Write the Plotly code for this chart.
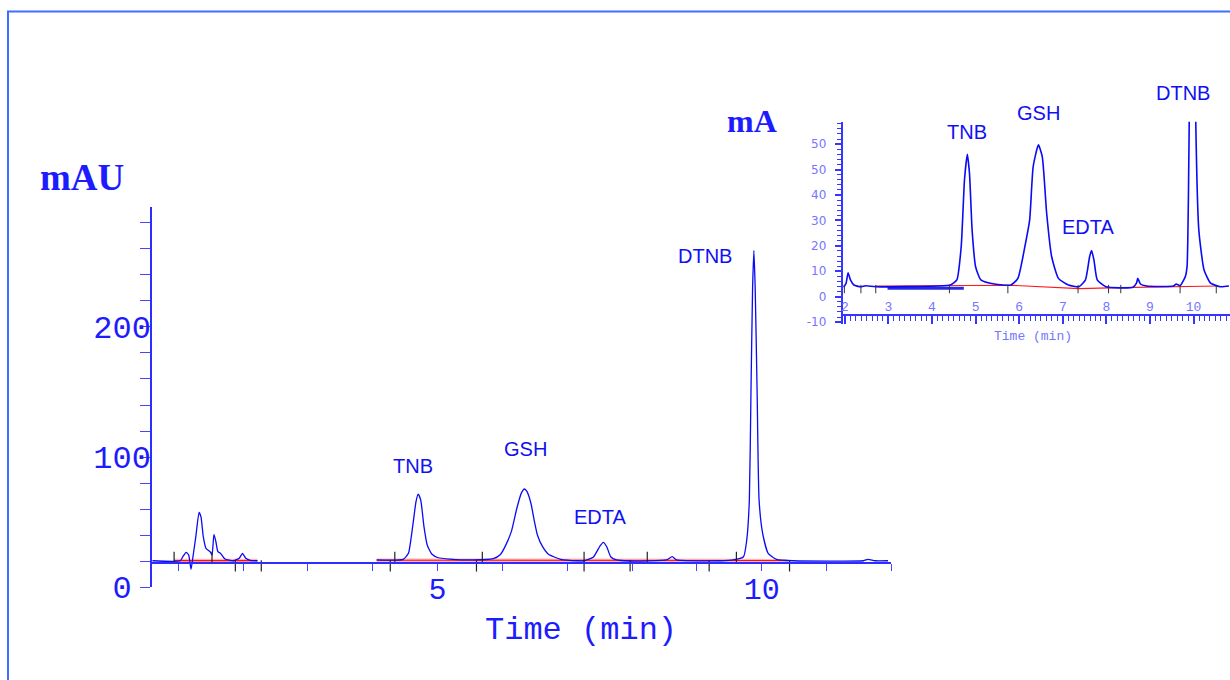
import plotly.graph_objects as go

W, H = 1230, 680

# ---------------- DATA ----------------
# Main chromatogram: time (min) vs signal (mAU)
main_seg1_t = [0.60, 1.03, 1.07, 1.12, 1.16, 1.196, 1.23, 1.27, 1.32, 1.35, 1.385, 1.427,
               1.49, 1.52, 1.55, 1.58, 1.61, 1.65, 1.72, 1.85, 1.94, 1.99, 2.04, 2.11, 2.22]
main_seg1_y = [20.2, 20.2, 23.3, 26.7, 24.6, 13.6, 24.6, 38.7, 57.4, 54.0, 38.7, 29.7,
               27.2, 24.6, 40.5, 34.8, 27.2, 25.9, 21.5, 20.2, 22.1, 25.9, 22.1, 20.5, 20.2]

main_seg2_t = [4.06, 4.47, 4.55, 4.615, 4.667, 4.70, 4.74, 4.79, 4.84, 4.91, 5.01, 5.19,
               5.55, 5.86, 5.97, 6.05, 6.14, 6.22, 6.29, 6.34, 6.38, 6.44, 6.49, 6.54,
               6.62, 6.71, 6.90, 7.17, 7.25, 7.40, 7.505, 7.556, 7.61, 7.67, 7.76, 7.97,
               8.53, 8.62, 8.69, 9.36, 9.56, 9.72, 9.77, 9.81, 9.835, 9.86, 9.88, 9.90,
               9.93, 9.96, 10.015, 10.10, 10.23, 10.49, 11.57, 11.64, 11.75, 11.95]
main_seg2_y = [20.8, 21.3, 25.9, 46.4, 65.6, 71.5, 66.9, 46.4, 32.3, 25.4, 22.5, 21.5,
               20.8, 21.8, 25.0, 32.0, 43.0, 60.0, 72.0, 75.4, 73.3, 64.4, 51.5, 40.0,
               31.0, 25.2, 21.3, 20.2, 20.2, 22.8, 31.5, 34.4, 31.0, 23.3, 20.8, 20.0,
               20.8, 23.3, 20.8, 20.2, 20.8, 23.3, 36.2, 67.0, 150.0, 230.0, 258.7, 230.0,
               150.0, 67.0, 41.3, 25.9, 21.3, 20.2, 20.2, 21.3, 20.2, 20.2]

main_base1_t = [0.93, 2.22]
main_base1_y = [20.3, 20.3]
main_base2_t = [4.06, 10.40]
main_base2_y = [20.6, 20.4]

main_mark_up_t = [0.935, 1.52, 4.34, 5.69, 7.26, 8.235, 9.61]
main_mark_up_y = [22.9, 22.9, 22.9, 22.9, 22.9, 22.9, 22.9]
main_mark_dn_t = [1.88, 2.28, 4.27, 5.60, 7.26, 7.97, 9.19, 10.43]
main_mark_dn_y = [16.2, 16.2, 16.2, 16.2, 16.2, 16.2, 16.2, 16.2]

main_peak_names = ["TNB", "GSH", "EDTA", "DTNB"]
main_xtick_vals = [5, 10]
main_xtick_text = ["5", "10"]
main_xminor_vals = [1, 2, 3, 4, 6, 7, 8, 9, 11, 12]
main_ytick_vals = [0, 100, 200]
main_ytick_text = ["0\u00a0", "100", "200"]
main_yminor_vals = [20, 40, 60, 80, 120, 140, 160, 180, 220, 240, 260, 280]

# Inset chromatogram: time (min) vs signal (mA)
inset_t = [1.975, 2.03, 2.075, 2.13, 2.21, 2.36, 2.48, 2.71, 4.11, 4.42, 4.57, 4.67,
           4.745, 4.81, 4.86, 4.92, 5.00, 5.12, 5.43, 5.81, 5.97, 6.13, 6.24, 6.32,
           6.44, 6.53, 6.63, 6.745, 6.90, 7.13, 7.37, 7.52, 7.615, 7.66, 7.715, 7.79,
           7.99, 8.61, 8.69, 8.72, 8.78, 8.92, 9.54, 9.60, 9.69, 9.81, 9.85, 9.90,
           9.975, 10.05, 10.12, 10.24, 10.39, 10.62, 10.81]
inset_y = [3.7, 5.3, 9.4, 6.6, 4.6, 3.9, 4.3, 3.9, 4.2, 4.6, 6.6, 19.7,
           45.9, 56.0, 48.5, 26.2, 11.8, 6.6, 5.0, 4.6, 7.2, 19.7, 30.2, 51.1,
           59.7, 55.0, 32.8, 15.7, 7.2, 4.6, 3.9, 6.6, 15.7, 18.1, 14.4, 6.6,
           3.9, 3.7, 5.3, 7.2, 5.0, 4.2, 4.2, 5.0, 4.3, 7.9, 11.8, 68.8,
           250.0, 68.8, 26.2, 10.5, 5.3, 3.9, 4.2]

inset_base_t = [2.71, 5.80, 7.37, 8.32, 10.55]
inset_base_y = [4.2, 4.5, 3.2, 3.6, 4.2]
inset_bar_t = [2.98, 4.73]
inset_bar_y = [3.3, 3.3]
inset_mark_t = [1.99, 2.37, 2.71, 4.40, 5.74, 7.35, 8.05, 8.33, 9.69, 10.52]
inset_mark_y = [3.0, 3.0, 3.0, 3.0, 3.0, 3.0, 3.0, 3.0, 3.0, 3.0]

inset_peak_names = ["TNB", "GSH", "EDTA", "DTNB"]
inset_xtick_vals = [2, 3, 4, 5, 6, 7, 8, 9, 10]
inset_xtick_text = ["2", "3", "4", "5", "6", "7", "8", "9", "10"]
inset_ytick_vals = [-10, 0, 10, 20, 30, 40, 50, 60]
inset_ytick_text = ["-10", "0", "10", "20", "30", "40", "50", "50"]

# ---------------- STYLE / LAYOUT ----------------
BLUE_SIG = "#0a0af5"
BLUE_AX = "#2d2dff"
BLUE_TXT = "#1c1cff"
BLUE_LIGHT = "#7575ff"
MONO = "Liberation Mono"
SANS = "Liberation Sans"
SERIF = "Liberation Serif"


def px2paper(px, py):
    return px / W, 1 - py / H


fig = go.Figure()

# main chart traces
for bt, by in [(main_base1_t, main_base1_y), (main_base2_t, main_base2_y)]:
    fig.add_trace(go.Scatter(x=bt, y=by, mode="lines", line=dict(color="#ffb5b5", width=3.5),
                             xaxis="x", yaxis="y", hoverinfo="skip"))
    fig.add_trace(go.Scatter(x=bt, y=by, mode="lines", line=dict(color="#ff1010", width=1.1),
                             xaxis="x", yaxis="y", hoverinfo="skip"))
for st, sy in [(main_seg1_t, main_seg1_y), (main_seg2_t, main_seg2_y)]:
    fig.add_trace(go.Scatter(x=st, y=sy, mode="lines",
                             line=dict(color=BLUE_SIG, width=1.3, shape="spline", smoothing=0.5),
                             xaxis="x", yaxis="y"))
for mt, my in [(main_mark_up_t, main_mark_up_y), (main_mark_dn_t, main_mark_dn_y)]:
    fig.add_trace(go.Scatter(x=mt, y=my, mode="markers",
                             marker=dict(symbol="line-ns", size=8,
                                         line=dict(color="#222222", width=1.2)),
                             xaxis="x", yaxis="y", hoverinfo="skip"))

# inset traces
fig.add_trace(go.Scatter(x=inset_base_t, y=inset_base_y, mode="lines",
                         line=dict(color="#ff1a1a", width=1.2), xaxis="x2", yaxis="y2"))
fig.add_trace(go.Scatter(x=inset_bar_t, y=inset_bar_y, mode="lines",
                         line=dict(color="#2a2ae0", width=3), xaxis="x2", yaxis="y2"))
fig.add_trace(go.Scatter(x=inset_t, y=inset_y, mode="lines",
                         line=dict(color=BLUE_SIG, width=1.6, shape="spline", smoothing=0.5),
                         xaxis="x2", yaxis="y2"))
fig.add_trace(go.Scatter(x=inset_mark_t, y=inset_mark_y, mode="markers",
                         marker=dict(symbol="line-ns", size=6,
                                     line=dict(color="#333333", width=1)),
                         xaxis="x2", yaxis="y2", hoverinfo="skip"))

annotations = []
# peak labels (pixel centres)
for name, (px, py) in zip(main_peak_names, [(412.5, 466), (525, 448.5), (600.8, 516.5), (705, 256)]):
    x, y = px2paper(px, py)
    annotations.append(dict(x=x, y=y, xref="paper", yref="paper", text=name, showarrow=False,
                            xanchor="center", yanchor="middle",
                            font=dict(family=SANS, size=20, color="#1010f2")))
for name, (px, py) in zip(inset_peak_names, [(967, 131.5), (1038.7, 113), (1088, 227), (1183, 93.5)]):
    x, y = px2paper(px, py)
    annotations.append(dict(x=x, y=y, xref="paper", yref="paper", text=name, showarrow=False,
                            xanchor="center", yanchor="middle",
                            font=dict(family=SANS, size=20, color="#1010f2")))

for text, (px, py), fnt in [
    ("mAU", (82, 178), dict(family=SERIF, size=37, color=BLUE_TXT, weight="bold")),
    ("mA", (751.5, 121), dict(family=SERIF, size=32, color=BLUE_TXT, weight="bold")),
    ("Time (min)", (581, 630), dict(family=MONO, size=32, color=BLUE_TXT)),
    ("Time (min)", (1033, 336), dict(family=MONO, size=13, color=BLUE_LIGHT)),
]:
    x, y = px2paper(px, py)
    annotations.append(dict(x=x, y=y, xref="paper", yref="paper", text=text, showarrow=False,
                            xanchor="center", yanchor="middle", font=fnt))

INSET_Y0_PX = 296.7          # pixel row of value 0 on the inset
INSET_PX_PER_UNIT = 2.543
INSET_YMIN, INSET_YMAX = -10.6, 68.8

fig.update_layout(
    width=W, height=H, autosize=False,
    margin=dict(l=0, r=0, t=0, b=0, pad=0),
    paper_bgcolor="white", plot_bgcolor="rgba(0,0,0,0)",
    showlegend=False,
    annotations=annotations,
    shapes=[dict(type="rect", xref="paper", yref="paper",
                 x0=8 / W, x1=1.05, y0=-0.05, y1=1 - 11.5 / H,
                 line=dict(color="#3f6dff", width=2), layer="below")],
    xaxis=dict(
        domain=[152 / W, 891.3 / W], range=[0.594, 12.0],
        anchor="free", position=1 - 563 / H, automargin=False,
        showline=True, linecolor=BLUE_AX, linewidth=1.5,
        showgrid=False, zeroline=False,
        ticks="outside", ticklen=7, tickwidth=1.3, tickcolor="#4545ff",
        tickmode="array", tickvals=main_xtick_vals, ticktext=main_xtick_text,
        tickfont=dict(family=MONO, size=30, color=BLUE_TXT),
        ticklabelstandoff=-8,
        minor=dict(tickmode="array", tickvals=main_xminor_vals, ticks="outside",
                   ticklen=7, tickwidth=1.3, tickcolor="#4545ff"),
    ),
    yaxis=dict(
        domain=[1 - 587 / H, 1 - 207 / H], range=[0, 292.3], anchor="x", automargin=False,
        showline=True, linecolor=BLUE_AX, linewidth=1.5,
        showgrid=False, zeroline=False,
        ticks="outside", ticklen=10, tickwidth=1.3, tickcolor="#4545ff",
        tickmode="array", tickvals=main_ytick_vals, ticktext=main_ytick_text,
        tickfont=dict(family=MONO, size=32, color=BLUE_TXT),
        ticklabelstandoff=-17,
        minor=dict(tickmode="array", tickvals=main_yminor_vals, ticks="outside",
                   ticklen=10, tickwidth=1.3, tickcolor="#4545ff"),
    ),
    xaxis2=dict(
        domain=[842.7 / W, 1.0], range=[1.952, 10.835],
        anchor="free", position=1 - 314.5 / H, automargin=False,
        showline=True, linecolor="#3535ff", linewidth=2,
        showgrid=False, zeroline=False,
        ticks="outside", ticklen=8, tickwidth=1.5, tickcolor="#3535ff",
        tickmode="array", tickvals=inset_xtick_vals, ticktext=inset_xtick_text,
        ticklabelposition="inside", ticklabeloverflow="allow",
        tickfont=dict(family=MONO, size=13, color=BLUE_LIGHT),
        minor=dict(tickmode="linear", tick0=2, dtick=0.125, ticks="outside",
                   ticklen=5, tickwidth=1.3, tickcolor="#3535ff"),
    ),
    yaxis2=dict(
        domain=[1 - (INSET_Y0_PX - INSET_YMIN * INSET_PX_PER_UNIT) / H,
                1 - (INSET_Y0_PX - INSET_YMAX * INSET_PX_PER_UNIT) / H],
        range=[INSET_YMIN, INSET_YMAX], anchor="x2",
        automargin=False, ticklabeloverflow="allow",
        showline=True, linecolor="#3535ff", linewidth=2,
        showgrid=False, zeroline=False,
        ticks="outside", ticklen=6, tickwidth=1.5, tickcolor="#3535ff",
        tickmode="array", tickvals=inset_ytick_vals, ticktext=inset_ytick_text,
        tickfont=dict(family="DejaVu Sans", size=12, color=BLUE_LIGHT),
        ticklabelstandoff=6,
        minor=dict(tickmode="linear", tick0=0, dtick=2, ticks="outside",
                   ticklen=4, tickwidth=1.2, tickcolor="#3535ff"),
    ),
)

fig.write_html("out.html")
